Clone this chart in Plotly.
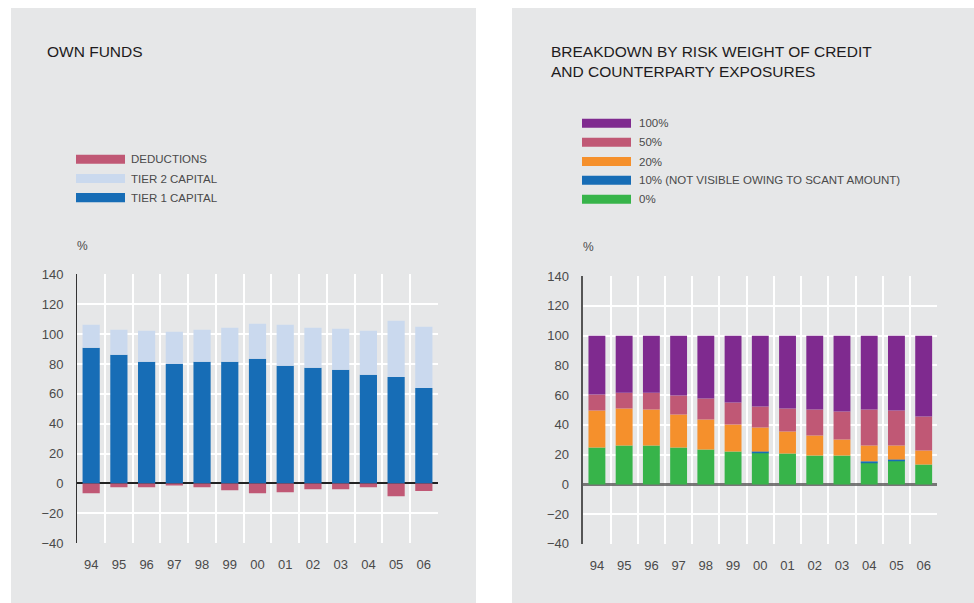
import plotly.graph_objects as go

W, H = 974, 603

# ---------------- data ----------------
years = ["94", "95", "96", "97", "98", "99", "00", "01", "02", "03", "04", "05", "06"]

# Own funds (%)
tier1 = [90.9, 86.2, 81.5, 80.1, 81.5, 81.5, 83.5, 78.8, 77.5, 76.1, 72.8, 71.4, 64.0]
tier2 = [15.4, 16.8, 20.8, 21.5, 21.5, 22.8, 23.5, 27.5, 26.8, 27.5, 29.5, 37.6, 41.0]
deductions = [-6.5, -2.5, -2.5, -1.1, -2.5, -4.5, -6.5, -5.8, -3.8, -3.8, -2.5, -8.5, -5.1]

# Risk weight breakdown (%)
rw0 = [24.8, 26.2, 26.2, 24.8, 23.5, 22.1, 21.5, 20.8, 19.5, 19.5, 14.8, 16.1, 13.4]
rw10 = [0.0, 0.0, 0.0, 0.0, 0.0, 0.0, 0.7, 0.0, 0.0, 0.0, 0.7, 0.7, 0.0]
rw20 = [24.9, 24.8, 24.1, 22.2, 20.1, 18.2, 16.1, 14.8, 13.4, 10.7, 10.7, 9.4, 9.4]
rw50 = [10.7, 10.7, 11.4, 12.7, 14.1, 14.7, 14.0, 15.4, 17.4, 18.8, 24.1, 23.5, 22.8]
rw100 = [39.6, 38.3, 38.3, 40.3, 42.3, 45.0, 47.7, 49.0, 49.7, 51.0, 49.7, 50.3, 54.4]

y_ticks = [-40, -20, 0, 20, 40, 60, 80, 100, 120, 140]

left_title = "OWN FUNDS"
right_title = "BREAKDOWN BY RISK WEIGHT OF CREDIT<br>AND COUNTERPARTY EXPOSURES"

left_names = ["DEDUCTIONS", "TIER 2 CAPITAL", "TIER 1 CAPITAL"]
right_names = ["100%", "50%", "20%", "10% (NOT VISIBLE OWING TO SCANT AMOUNT)", "0%"]

# ---------------- styles ----------------
C_T1 = "#176db6"
C_T2 = "#cad9ee"
C_DED = "#c05875"
C_100 = "#7f2a8f"
C_50 = "#c05875"
C_20 = "#f5902c"
C_10 = "#176db6"
C_0 = "#37b44a"
PANEL = "#e6e7e8"
TXT = "#4a4a4a"
FONT = "Liberation Sans, Arial, sans-serif"

# paper area as rendered (plot region inset 8px top/bottom)
TOP_INSET = 8
PAPER_H = 587

fig = go.Figure()

# left chart (stack order bottom -> top)
fig.add_bar(x=years, y=tier1, marker_color=C_T1, name=left_names[2], xaxis="x", yaxis="y")
fig.add_bar(x=years, y=tier2, marker_color=C_T2, name=left_names[1], xaxis="x", yaxis="y")
fig.add_bar(x=years, y=deductions, marker_color=C_DED, name=left_names[0], xaxis="x", yaxis="y")

# right chart
fig.add_bar(x=years, y=rw0, marker_color=C_0, name=right_names[4], xaxis="x2", yaxis="y2")
fig.add_bar(x=years, y=rw10, marker_color=C_10, name=right_names[3], xaxis="x2", yaxis="y2")
fig.add_bar(x=years, y=rw20, marker_color=C_20, name=right_names[2], xaxis="x2", yaxis="y2")
fig.add_bar(x=years, y=rw50, marker_color=C_50, name=right_names[1], xaxis="x2", yaxis="y2")
fig.add_bar(x=years, y=rw100, marker_color=C_100, name=right_names[0], xaxis="x2", yaxis="y2")

fig.update_traces(marker_line_width=0, showlegend=False)


def px_x(p):
    return p / W


def px_y(p):
    return 1 - (p - TOP_INSET) / PAPER_H


xcommon = dict(
    type="category", tickson="boundaries", showgrid=True, gridcolor="white", gridwidth=2,
    showline=False, ticks="", zeroline=False, ticklabelstandoff=12,
    tickfont=dict(family=FONT, size=13, color=TXT), fixedrange=True,
)
ycommon = dict(
    range=[-40, 140], tickvals=y_ticks, showgrid=True, gridcolor="white", gridwidth=2,
    showline=True, ticks="", ticklabelstandoff=10, zeroline=True,
    tickfont=dict(family=FONT, size=13, color=TXT), fixedrange=True,
)

fig.update_layout(
    width=W, height=H, autosize=False,
    margin=dict(l=0, r=0, t=0, b=0),
    paper_bgcolor="white", plot_bgcolor=PANEL,
    barmode="relative", bargap=0.38,
    font=dict(family=FONT, color=TXT),
    xaxis=dict(domain=[px_x(77.3), px_x(437.7)], anchor="y", **xcommon),
    yaxis=dict(domain=[px_y(543.3), px_y(275)], anchor="x", linecolor="#333333", linewidth=1.3,
               zerolinecolor="#222222", zerolinewidth=1.5, **ycommon),
    xaxis2=dict(domain=[px_x(583.3), px_x(937.3)], anchor="y2", **xcommon),
    yaxis2=dict(domain=[px_y(544), px_y(276.7)], anchor="x2", linecolor="#555555", linewidth=1.5,
                zerolinecolor="rgba(80,80,80,0.75)", zerolinewidth=2.5, **ycommon),
)

shapes = [
    dict(type="rect", xref="paper", yref="paper", x0=px_x(11), x1=px_x(476), y0=px_y(604),
         y1=px_y(9), fillcolor=PANEL, line_width=0, layer="below"),
    dict(type="rect", xref="paper", yref="paper", x0=px_x(512), x1=px_x(975), y0=px_y(604),
         y1=px_y(9), fillcolor=PANEL, line_width=0, layer="below"),
]
annotations = [
    dict(text=left_title, x=px_x(45), y=px_y(52), xref="paper", yref="paper", xanchor="left",
         yanchor="middle", showarrow=False, font=dict(family=FONT, size=15.5, color="#1e1b1c")),
    dict(text=right_title, x=px_x(549), y=px_y(62.5), xref="paper", yref="paper", xanchor="left",
         yanchor="middle", align="left", showarrow=False,
         font=dict(family=FONT, size=15.5, color="#1e1b1c")),
    dict(text="%", x=px_x(75), y=px_y(247), xref="paper", yref="paper", xanchor="left",
         yanchor="middle", showarrow=False, font=dict(family=FONT, size=12, color=TXT)),
    dict(text="%", x=px_x(581), y=px_y(248), xref="paper", yref="paper", xanchor="left",
         yanchor="middle", showarrow=False, font=dict(family=FONT, size=12, color=TXT)),
]

# legends (swatch + label), top to bottom
left_colors = [C_DED, C_T2, C_T1]
left_ys = [160, 179.3, 198.3]
for name, col, yy in zip(left_names, left_colors, left_ys):
    shapes.append(dict(type="rect", xref="paper", yref="paper", x0=px_x(76), x1=px_x(125),
                       y0=px_y(yy + 4.5), y1=px_y(yy - 4.5), fillcolor=col, line_width=0))
    annotations.append(dict(text=name, x=px_x(129), y=px_y(yy), xref="paper", yref="paper",
                            xanchor="left", yanchor="middle", showarrow=False,
                            font=dict(family=FONT, size=11.5, color=TXT)))

right_colors = [C_100, C_50, C_20, C_10, C_0]
right_ys = [124, 143, 162.3, 181, 200]
for name, col, yy in zip(right_names, right_colors, right_ys):
    shapes.append(dict(type="rect", xref="paper", yref="paper", x0=px_x(582), x1=px_x(631),
                       y0=px_y(yy + 4.5), y1=px_y(yy - 4.5), fillcolor=col, line_width=0))
    annotations.append(dict(text=name, x=px_x(637), y=px_y(yy), xref="paper", yref="paper",
                            xanchor="left", yanchor="middle", showarrow=False,
                            font=dict(family=FONT, size=11.5, color=TXT)))

fig.update_layout(shapes=shapes, annotations=annotations)

fig.write_html("out.html", config={"displayModeBar": False})
